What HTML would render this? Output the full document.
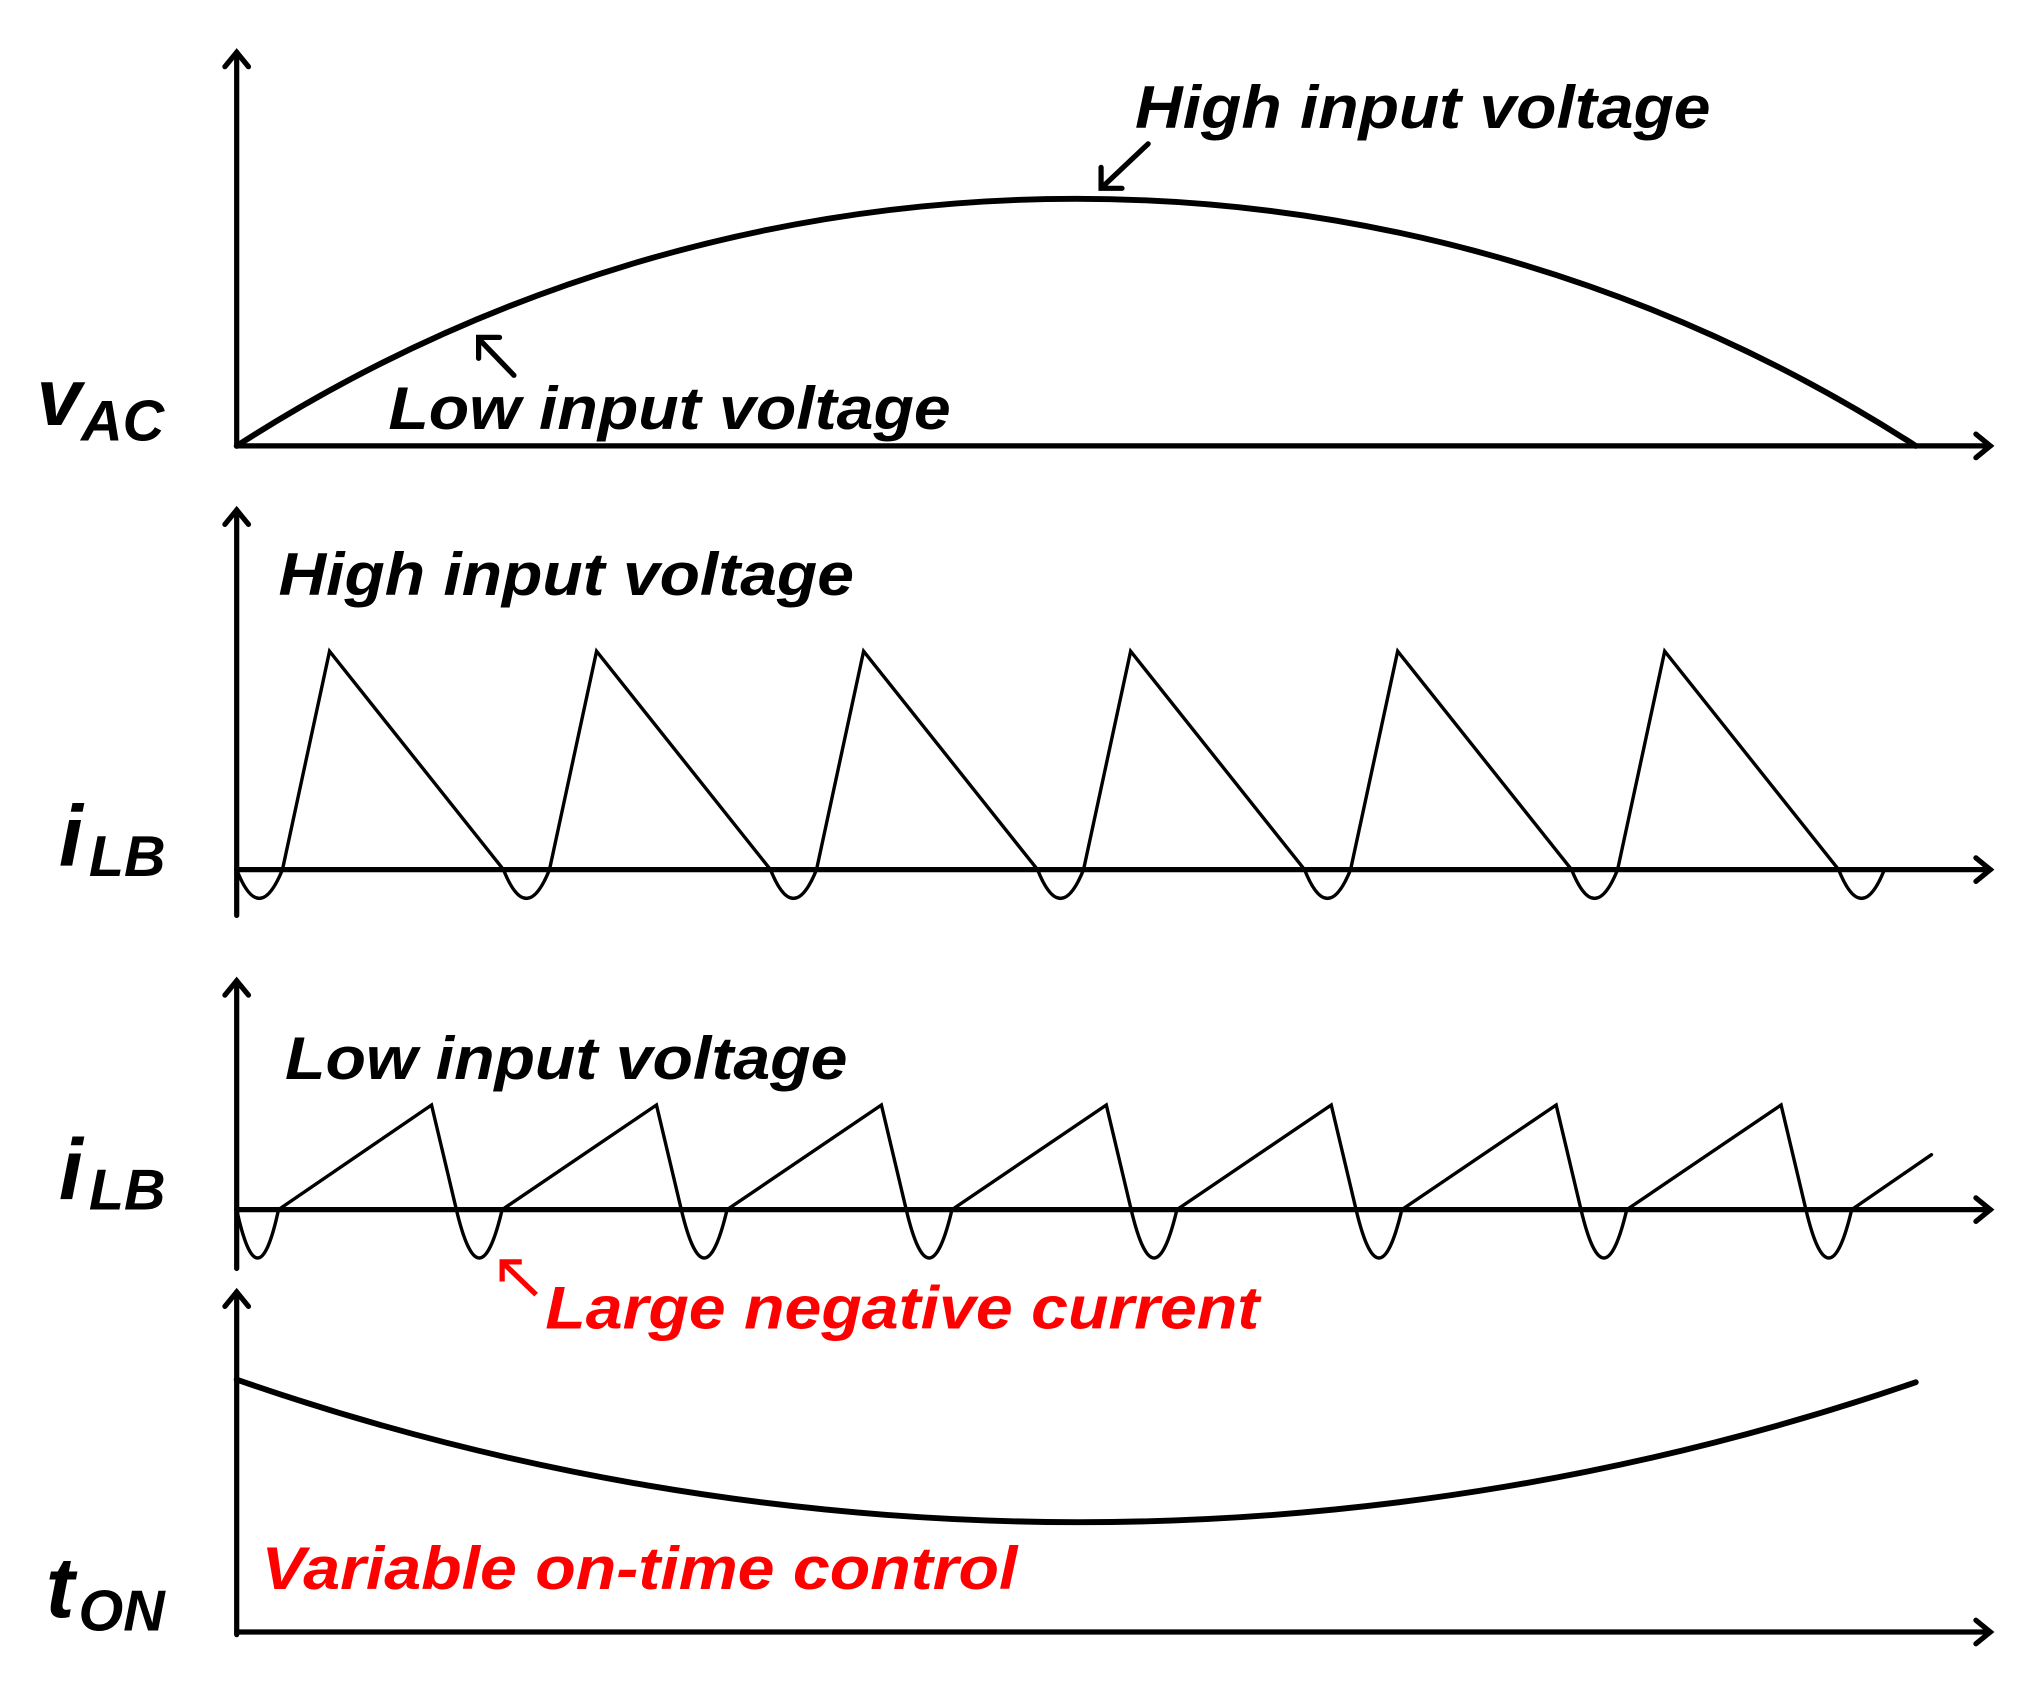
<!DOCTYPE html>
<html><head><meta charset="utf-8"><style>
html,body{margin:0;padding:0;background:#fff;}
svg{display:block;}
text{font-family:"Liberation Sans",Arial,sans-serif;font-weight:bold;font-style:italic;}
</style></head><body>
<svg width="2040" height="1700" viewBox="0 0 1560 1300" xmlns="http://www.w3.org/2000/svg">
<g fill="none" stroke="#000" stroke-linecap="round" stroke-linejoin="miter">
<!-- Panel 1 axes -->
<line x1="181" y1="40" x2="181" y2="341" stroke-width="4"/>
<line x1="181" y1="341" x2="1522" y2="341" stroke-width="4"/>
<polyline points="172,51 181,40 190,51" stroke-width="4"/>
<polyline points="1511,332 1522,341 1511,350" stroke-width="4"/>
<path d="M181,341 A1185,1185 0 0 1 1465,341" stroke-width="4.5"/>
<line x1="878" y1="110" x2="843" y2="143" stroke-width="4"/>
<polyline points="842,128 842,144 858,144" stroke-width="4"/>
<line x1="393" y1="287" x2="367" y2="260" stroke-width="4"/>
<polyline points="366,274 366,258 382,258" stroke-width="4"/>

<!-- Panel 2 axes -->
<line x1="181" y1="390" x2="181" y2="700" stroke-width="4"/>
<line x1="181" y1="665" x2="1522" y2="665" stroke-width="4"/>
<polyline points="172,401 181,390 190,401" stroke-width="4"/>
<polyline points="1511,656 1522,665 1511,674" stroke-width="4"/>
<path stroke-width="2.6" d="M181,665 Q198,709 216,665 L252,498 L385,665 Q402.5,709 420.2,665 L456.2,498 L589.2,665 Q606.7,709 624.4,665 L660.4,498 L793.4,665 Q810.9,709 828.6,665 L864.6,498 L997.6,665 Q1015,709 1032.8,665 L1068.8,498 L1201.8,665 Q1219.3,709 1237,665 L1273,498 L1406,665 Q1423.5,709 1441,665"/>

<!-- Panel 3 axes -->
<line x1="181" y1="750" x2="181" y2="970" stroke-width="4"/>
<line x1="181" y1="925" x2="1522" y2="925" stroke-width="4"/>
<polyline points="172,761 181,750 190,761" stroke-width="4"/>
<polyline points="1511,916 1522,925 1511,934" stroke-width="4"/>
<path stroke-width="2.6" d="M181,925 Q197,999 213,925 L330,845 L349,925 Q366.5,999 384,925 L502,845 L521,925 Q538.5,999 556,925 L674,845 L693,925 Q710.5,999 728,925 L846,845 L865,925 Q882.5,999 900,925 L1018,845 L1037,925 Q1054.5,999 1072,925 L1190,845 L1209,925 Q1226.5,999 1244,925 L1362,845 L1381,925 Q1398.5,999 1416,925 L1477,883"/>

<!-- Panel 4 axes -->
<line x1="181" y1="988" x2="181" y2="1250" stroke-width="4"/>
<line x1="181" y1="1248" x2="1522" y2="1248" stroke-width="4"/>
<polyline points="172,999 181,988 190,999" stroke-width="4"/>
<polyline points="1511,1239 1522,1248 1511,1257" stroke-width="4"/>
<path d="M181,1055 A1962,1962 0 0 0 1465,1057" stroke-width="4.5"/>
</g>
<g stroke="#f00" fill="none" stroke-width="4">
<line x1="410" y1="990" x2="385" y2="966"/>
<polyline points="384,980 384,965 399,965"/>
</g>

<text x="868" y="98" font-size="46" fill="#000" textLength="440" lengthAdjust="spacingAndGlyphs">High input voltage</text>
<text x="297" y="328" font-size="46" fill="#000" textLength="430" lengthAdjust="spacingAndGlyphs">Low input voltage</text>
<text x="213" y="455" font-size="46" fill="#000" textLength="440" lengthAdjust="spacingAndGlyphs">High input voltage</text>
<text x="218" y="825" font-size="46" fill="#000" textLength="430" lengthAdjust="spacingAndGlyphs">Low input voltage</text>
<text x="417" y="1016" font-size="46" fill="#f00" textLength="546" lengthAdjust="spacingAndGlyphs">Large negative current</text>
<text x="200" y="1215" font-size="46" fill="#f00" textLength="578" lengthAdjust="spacingAndGlyphs">Variable on-time control</text>

<text x="28" y="325" font-size="62" fill="#000">v</text>
<text x="62" y="337" font-size="44" fill="#000">AC</text>
<text x="45" y="662" font-size="66" fill="#000">i</text>
<text x="68" y="670" font-size="44" fill="#000">LB</text>
<text x="45" y="917" font-size="66" fill="#000">i</text>
<text x="68" y="925" font-size="44" fill="#000">LB</text>
<text x="35" y="1237" font-size="66" fill="#000">t</text>
<text x="60" y="1247" font-size="44" fill="#000">ON</text>
</svg>
</body></html>
